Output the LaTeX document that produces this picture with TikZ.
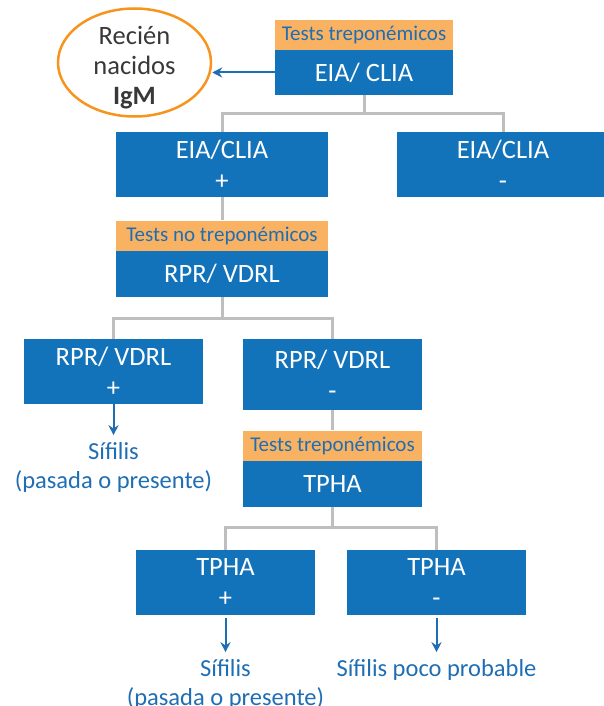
\documentclass[tikz,border=0pt]{standalone}
\usepackage{fontspec}
\setmainfont{Carlito}
\usetikzlibrary{positioning,shapes.geometric,arrows.meta}

\definecolor{boxblue}{RGB}{18,115,187}
\definecolor{tagorange}{RGB}{249,178,98}
\definecolor{ringorange}{RGB}{247,148,29}
\definecolor{linegray}{RGB}{190,190,192}
\definecolor{textblue}{RGB}{31,110,180}

\begin{document}
\begin{tikzpicture}[x=1pt,y=-1pt,
    box/.style={fill=boxblue, text=white, minimum width=179, inner sep=0pt, align=center, font=\fontsize{26.5}{31}\selectfont},
    tag/.style={fill=tagorange, text=textblue, minimum height=30, inner sep=0pt, font=\fontsize{21}{25}\selectfont},
    conn/.style={linegray, line width=3},
    res/.style={-{Stealth[length=10,width=10]}, textblue, line width=2},
    outcome/.style={text=textblue, align=center, inner xsep=0pt, inner ysep=7pt, font=\fontsize{24.5}{29}\selectfont}]
    \useasboundingbox (0,0) rectangle (604,706);
    \clip (0,0) rectangle (604,706);

    % first test
    \node[box, minimum width=178, minimum height=45] (eia) at (364,72.5) {EIA/ CLIA};
    \node[tag, minimum width=178, above=0pt of eia] (tag1) {Tests treponémicos};
    \node[draw=ringorange, line width=2.5, ellipse, minimum width=153, minimum height=108, inner sep=0pt] (igm) at (134.5,62.5) {};
    \node[align=center, text=black!78, font=\fontsize{26.5}{30}\selectfont] (igmtext) at (134.5,68) {Recién\\nacidos\\\textbf{IgM}};
    \draw[res] (eia.west) -- (eia.west -| igm.east); % newborns

    \node[box, minimum width=212, minimum height=65] (eiapos) at (222,164.5) {EIA/CLIA\\+};
    \node[box, minimum width=212, minimum height=65] (eianeg) at (503,164.5) {EIA/CLIA\\-};
    \draw[conn] (eia.south) -- ++(0,18) coordinate (split1);
    \draw[conn] (eiapos.north) |- (split1) -| (eianeg.north);

    % non treponemal
    \node[box, minimum width=212, minimum height=46] (rpr) at (222,274) {RPR/ VDRL};
    \node[tag, minimum width=212, above=0pt of rpr] (tag2) {Tests no treponémicos};
    \draw[conn] (eiapos.south) -- (tag2.north);

    \node[box, minimum height=65] (rprpos) at (113.5,371.5) {RPR/ VDRL\\+};
    \node[box, minimum height=71] (rprneg) at (332.5,374.5) {RPR/ VDRL\\-};
    \draw[conn] (rpr.south) -- ++(0,21) coordinate (split2);
    \draw[conn] (rprpos.north) |- (split2) -| (rprneg.north);

    \node[outcome, below=31pt of rprpos] (sif1) {Sífilis\\(pasada o presente)};
    \draw[res] (rprpos.south) -- (sif1.north);

    % treponemal again
    \node[box, minimum height=46] (tpha) at (332.5,484) {TPHA};
    \node[tag, minimum width=179, above=0pt of tpha] (tag3) {Tests treponémicos};
    \draw[conn] (rprneg.south) -- (tag3.north);

    \node[box, minimum height=65] (tphapos) at (225.5,582.5) {TPHA\\+};
    \node[box, minimum height=65] (tphaneg) at (436.5,582.5) {TPHA\\-};
    \draw[conn] (tpha.south) -- ++(0,20) coordinate (split3);
    \draw[conn] (tphapos.north) |- (split3) -| (tphaneg.north);

    \node[outcome, below=37pt of tphapos] (sif2) {Sífilis\\(pasada o presente)};
    \node[outcome, below=37pt of tphaneg] (sif3) {Sífilis poco probable};
    \draw[res] (tphapos.south) ++(0,3) -- (sif2.north);
    \draw[res] (tphaneg.south) ++(0,3) -- (sif3.north);
\end{tikzpicture}
\end{document}
